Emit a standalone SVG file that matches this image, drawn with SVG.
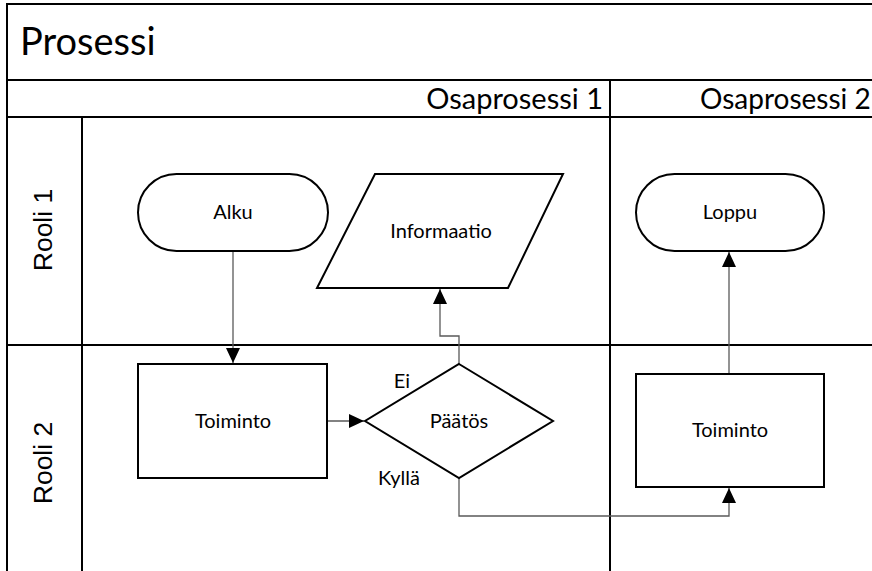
<svg xmlns="http://www.w3.org/2000/svg" width="872" height="571" viewBox="0 0 872 571">
<defs>
<style>
.frame{stroke:#000;stroke-width:2;fill:none}
.shape{stroke:#000;stroke-width:2;fill:#fff}
.conn{stroke:#595959;stroke-width:1.3;fill:none}
.lbl{font-family:Lato,"Open Sans",sans-serif;font-size:20px;fill:#000;text-anchor:middle}
.hdr{font-family:Lato,"Open Sans",sans-serif;fill:#000}
.role{font-family:"Liberation Sans",Arial,sans-serif;font-size:26.5px;fill:#000;text-anchor:middle}
</style>
<marker id="arr" markerUnits="userSpaceOnUse" markerWidth="16" markerHeight="15" refX="15" refY="7" orient="auto">
<path d="M0,0 L15,7 L0,14 z" fill="#000"/>
</marker>
</defs>
<rect width="872" height="571" fill="#fff"/>
<g id="pool">
<path class="frame" d="M7,571 V4 H872 M7,80 H872 M7,117 H872 M82,117 V571 M610,80 V571 M7,345 H872"/>
<text class="hdr" x="20" y="55" font-size="38">Prosessi</text>
<text class="hdr" x="603" y="109" font-size="29" text-anchor="end">Osaprosessi 1</text>
<text class="hdr" x="700" y="109" font-size="28">Osaprosessi 2</text>
<text class="role" transform="translate(43,230) rotate(-90)" dominant-baseline="central">Rooli 1</text>
<text class="role" transform="translate(43,463) rotate(-90)" dominant-baseline="central">Rooli 2</text>
</g>
<g id="connectors">
<path class="conn" d="M233,251 V363" marker-end="url(#arr)"/>
<path class="conn" d="M327,421 H364" marker-end="url(#arr)"/>
<path class="conn" d="M459,364 V336 H440 V289" marker-end="url(#arr)"/>
<path class="conn" d="M459,478 V516 H729 V488" marker-end="url(#arr)"/>
<path class="conn" d="M729,374 V252" marker-end="url(#arr)"/>
<text class="lbl" x="402" y="388">Ei</text>
<text class="lbl" x="399" y="485">Kyllä</text>
</g>
<g id="alku">
<rect class="shape" x="138" y="174" width="190" height="77" rx="38.5" ry="38.5"/>
<text class="lbl" x="233" y="219">Alku</text>
</g>
<g id="informaatio">
<path class="shape" d="M375,174 H563 L508,288 H317 Z"/>
<text class="lbl" x="441" y="238">Informaatio</text>
</g>
<g id="toiminto1">
<rect class="shape" x="138" y="364" width="189" height="114"/>
<text class="lbl" x="233" y="428">Toiminto</text>
</g>
<g id="paatos">
<path class="shape" d="M459,364 L553,421 L459,478 L365,421 Z"/>
<text class="lbl" x="459" y="428">Päätös</text>
</g>
<g id="loppu">
<rect class="shape" x="636" y="174" width="188" height="77" rx="38.5" ry="38.5"/>
<text class="lbl" x="730" y="219">Loppu</text>
</g>
<g id="toiminto2">
<rect class="shape" x="636" y="374" width="188" height="113"/>
<text class="lbl" x="730" y="437">Toiminto</text>
</g>
</svg>
